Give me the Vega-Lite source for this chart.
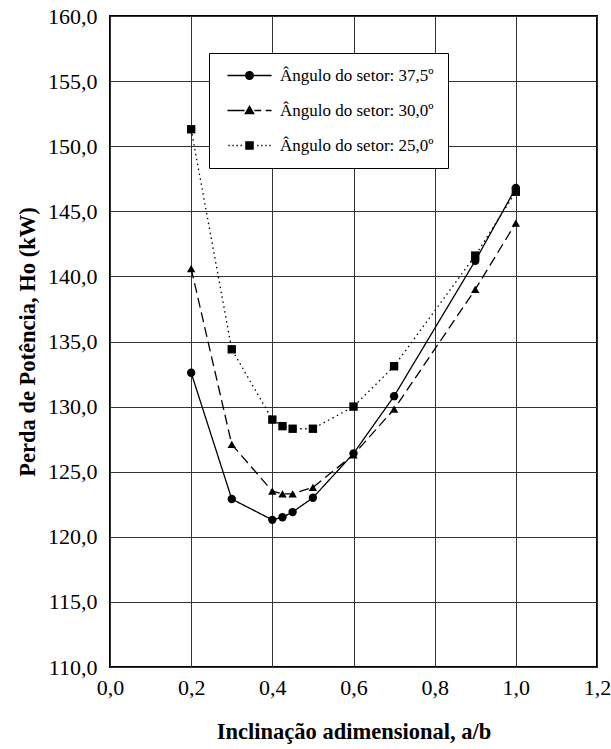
{
  "$schema": "https://vega.github.io/schema/vega-lite/v6.json",
  "width": 487,
  "height": 651,
  "autosize": {"type": "none"},
  "padding": {"left": 110, "top": 16, "right": 14, "bottom": 82},
  "background": "white",
  "config": {"view": {"stroke": "black", "strokeWidth": 2}, "font": "Liberation Serif"},
  "data": {"values": [
    {"a": 0.2, "h": 132.6, "s": "Ângulo do setor: 37,5º"},
    {"a": 0.3, "h": 122.9, "s": "Ângulo do setor: 37,5º"},
    {"a": 0.4, "h": 121.3, "s": "Ângulo do setor: 37,5º"},
    {"a": 0.425, "h": 121.5, "s": "Ângulo do setor: 37,5º"},
    {"a": 0.45, "h": 121.9, "s": "Ângulo do setor: 37,5º"},
    {"a": 0.5, "h": 123.0, "s": "Ângulo do setor: 37,5º"},
    {"a": 0.6, "h": 126.4, "s": "Ângulo do setor: 37,5º"},
    {"a": 0.7, "h": 130.8, "s": "Ângulo do setor: 37,5º"},
    {"a": 0.9, "h": 141.2, "s": "Ângulo do setor: 37,5º"},
    {"a": 1.0, "h": 146.8, "s": "Ângulo do setor: 37,5º"},
    {"a": 0.2, "h": 140.6, "s": "Ângulo do setor: 30,0º"},
    {"a": 0.3, "h": 127.1, "s": "Ângulo do setor: 30,0º"},
    {"a": 0.4, "h": 123.5, "s": "Ângulo do setor: 30,0º"},
    {"a": 0.425, "h": 123.3, "s": "Ângulo do setor: 30,0º"},
    {"a": 0.45, "h": 123.3, "s": "Ângulo do setor: 30,0º"},
    {"a": 0.5, "h": 123.8, "s": "Ângulo do setor: 30,0º"},
    {"a": 0.6, "h": 126.3, "s": "Ângulo do setor: 30,0º"},
    {"a": 0.7, "h": 129.8, "s": "Ângulo do setor: 30,0º"},
    {"a": 0.9, "h": 139.0, "s": "Ângulo do setor: 30,0º"},
    {"a": 1.0, "h": 144.1, "s": "Ângulo do setor: 30,0º"},
    {"a": 0.2, "h": 151.3, "s": "Ângulo do setor: 25,0º"},
    {"a": 0.3, "h": 134.4, "s": "Ângulo do setor: 25,0º"},
    {"a": 0.4, "h": 129.0, "s": "Ângulo do setor: 25,0º"},
    {"a": 0.425, "h": 128.5, "s": "Ângulo do setor: 25,0º"},
    {"a": 0.45, "h": 128.3, "s": "Ângulo do setor: 25,0º"},
    {"a": 0.5, "h": 128.3, "s": "Ângulo do setor: 25,0º"},
    {"a": 0.6, "h": 130.0, "s": "Ângulo do setor: 25,0º"},
    {"a": 0.7, "h": 133.1, "s": "Ângulo do setor: 25,0º"},
    {"a": 0.9, "h": 141.6, "s": "Ângulo do setor: 25,0º"},
    {"a": 1.0, "h": 146.5, "s": "Ângulo do setor: 25,0º"}
  ]},
  "encoding": {
    "x": {
      "field": "a", "type": "quantitative",
      "scale": {"domain": [0, 1.2], "nice": false, "zero": false},
      "axis": {
        "title": "Inclinação adimensional, a/b",
        "titleFont": "Liberation Serif", "titleFontWeight": "bold", "titleFontSize": 22.5, "titleColor": "black", "titlePadding": 22,
        "labelFont": "Liberation Serif", "labelFontSize": 22, "labelColor": "black", "labelPadding": 10, "labelFlush": false,
        "values": [0, 0.2, 0.4, 0.6, 0.8, 1.0, 1.2],
        "labelExpr": "replace(format(datum.value, '.1f'), '.', ',')",
        "grid": true, "gridColor": "#333", "gridWidth": 1, "gridOpacity": 1,
        "ticks": false, "domain": false
      }
    },
    "y": {
      "field": "h", "type": "quantitative",
      "scale": {"domain": [110, 160], "nice": false, "zero": false},
      "axis": {
        "title": "Perda de Potência, Ho (kW)",
        "titleFont": "Liberation Serif", "titleFontWeight": "bold", "titleFontSize": 22.5, "titleColor": "black", "titlePadding": 8,
        "labelFont": "Liberation Serif", "labelFontSize": 22, "labelColor": "black", "labelPadding": 13, "labelFlush": false,
        "values": [110, 115, 120, 125, 130, 135, 140, 145, 150, 155, 160],
        "labelExpr": "replace(format(datum.value, '.1f'), '.', ',')",
        "grid": true, "gridColor": "#333", "gridWidth": 1, "gridOpacity": 1,
        "ticks": false, "domain": false
      }
    }
  },
  "layer": [
    {
      "mark": {"type": "point", "filled": true, "color": "black", "opacity": 0, "size": 81},
      "encoding": {
        "shape": {
          "field": "s", "type": "nominal",
          "scale": {
            "domain": ["Ângulo do setor: 37,5º", "Ângulo do setor: 30,0º", "Ângulo do setor: 25,0º"],
            "range": [
              "M-4.9,-0.15H-1V0.15H-4.9ZM1,-0.15H4.9V0.15H1ZM-1,0A1,1,0,1,0,1,0A1,1,0,1,0,-1,0Z",
              "M-4.9,-0.15H-1.1V0.15H-4.9ZM1.1,-0.15H2.6V0.15H1.1ZM3.6,-0.15H4.9V0.15H3.6ZM0,-1.25L1.2,0.85L-1.2,0.85Z",
              "M-4.7,-0.15H-4.4V0.15H-4.7ZM-3.8,-0.15H-3.5V0.15H-3.8ZM-2.9,-0.15H-2.6V0.15H-2.9ZM-2,-0.15H-1.7V0.15H-2ZM1.7,-0.15H2V0.15H1.7ZM2.6,-0.15H2.9V0.15H2.6ZM3.5,-0.15H3.8V0.15H3.5ZM4.4,-0.15H4.7V0.15H4.4ZM-0.95,-0.95H0.95V0.95H-0.95Z"
            ]
          },
          "legend": {
            "orient": "none", "legendX": 99, "legendY": 37, "title": null,
            "labelFont": "Liberation Serif", "labelFontSize": 17, "labelColor": "black", "labelLimit": 500,
            "strokeColor": "black", "fillColor": "white", "padding": 14, "rowPadding": 17,
            "labelOffset": 22, "symbolOffset": 18, "symbolSize": 81,
            "symbolFillColor": "black", "symbolOpacity": 1
          }
        }
      }
    },
    {
      "mark": {"type": "line", "color": "black", "strokeWidth": 1.3},
      "encoding": {
        "strokeDash": {
          "field": "s", "type": "nominal",
          "scale": {"range": [[1.5, 3.5], [10, 5], [1, 0]]},
          "legend": null
        }
      }
    },
    {
      "mark": {"type": "point", "filled": true, "color": "black", "opacity": 1, "size": 70},
      "encoding": {
        "shape": {
          "field": "s", "type": "nominal",
          "scale": {"range": ["square", "triangle-up", "circle"]},
          "legend": null
        }
      }
    }
  ],
  "resolve": {"scale": {"shape": "independent"}, "legend": {"shape": "independent"}}
}
